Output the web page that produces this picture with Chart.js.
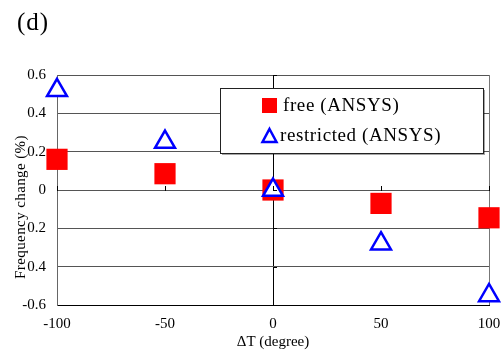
<!DOCTYPE html>
<html>
<head>
<meta charset="utf-8">
<script src="https://cdn.jsdelivr.net/npm/chart.js@4/dist/chart.umd.min.js"></script>
<style>
  html, body { margin: 0; padding: 0; background: #fff; }
  #wrap { width: 501px; height: 351px; }
</style>
</head>
<body>
<div id="wrap"><canvas id="c"></canvas></div>
<script>
// values
const deltaT = [-100, -50, 0, 50, 100];
const freeAnsys = [0.16, 0.085, 0, -0.07, -0.145];
const restrictedAnsys = [0.52, 0.25, 0, -0.28, -0.55];
const xTicks = [-100, -50, 0, 50, 100];
const yTicks = [0.6, 0.4, 0.2, 0, -0.2, -0.4, -0.6];

const serif = "'Liberation Serif', 'DejaVu Serif', serif";

// panel label, rotated y title and legend box
const extras = {
  id: "extras",
  afterDraw(chart) {
    const ctx = chart.ctx;
    const xs = chart.scales.x, ys = chart.scales.y;
    ctx.save();

    // little tick marks on the zero lines
    ctx.strokeStyle = "#000";
    ctx.lineWidth = 1;
    const y0 = Math.round(ys.getPixelForValue(0));
    xTicks.forEach(v => {
      const px = Math.round(xs.getPixelForValue(v)) + 0.5;
      ctx.beginPath(); ctx.moveTo(px, y0 - 4); ctx.lineTo(px, y0 + 1); ctx.stroke();
    });
    const x0 = xs.getPixelForValue(0);
    yTicks.forEach(v => {
      const py = Math.round(ys.getPixelForValue(v)) + 0.5;
      ctx.beginPath(); ctx.moveTo(x0, py); ctx.lineTo(x0 + 4, py); ctx.stroke();
    });

    // (d)
    ctx.fillStyle = "#000";
    ctx.font = "25px " + serif;
    ctx.letterSpacing = "1px";
    ctx.textAlign = "left";
    ctx.textBaseline = "middle";
    ctx.fillText("(d)", 17, 23);
    ctx.letterSpacing = "0px";

    // y title, drawn over the minus signs like the original
    ctx.save();
    ctx.translate(21, 207);
    ctx.rotate(-Math.PI / 2);
    ctx.font = "15px " + serif;
    ctx.letterSpacing = "0.4px";
    ctx.textAlign = "center";
    ctx.textBaseline = "middle";
    const tw = ctx.measureText("Frequency change (%)").width;
    ctx.fillStyle = "#fff";
    ctx.fillRect(-tw / 2, -6, tw, 12);
    ctx.fillStyle = "#000";
    ctx.fillText("Frequency change (%)", 0, 0);
    ctx.restore();

    // legend
    ctx.fillStyle = "rgba(0,0,0,0.35)";
    ctx.fillRect(222, 90, 263, 65);
    ctx.fillStyle = "#fff";
    ctx.fillRect(220.5, 88.5, 263, 65);
    ctx.strokeStyle = "#222";
    ctx.strokeRect(220.5, 88.5, 263, 65);

    ctx.fillStyle = "#ff0000";
    ctx.fillRect(262, 98, 15, 15);
    ctx.beginPath();
    ctx.moveTo(269.5, 129);
    ctx.lineTo(276.5, 142);
    ctx.lineTo(262.5, 142);
    ctx.closePath();
    ctx.fillStyle = "#fff";
    ctx.fill();
    ctx.strokeStyle = "#0000ff";
    ctx.lineWidth = 2.5;
    ctx.stroke();

    ctx.fillStyle = "#000";
    ctx.font = "19px " + serif;
    ctx.letterSpacing = "0.6px";
    ctx.textAlign = "left";
    ctx.textBaseline = "middle";
    ctx.fillText("free (ANSYS)", 283, 106);
    ctx.fillText("restricted (ANSYS)", 280, 136);
    ctx.restore();
  }
};

new Chart(document.getElementById("c").getContext("2d"), {
  type: "scatter",
  data: {
    datasets: [
      {
        label: "restricted (ANSYS)",
        data: deltaT.map((x, i) => ({ x: x, y: restrictedAnsys[i] })),
        pointStyle: "triangle",
        pointRadius: 11.5,
        pointBackgroundColor: "#fff",
        pointBorderColor: "#0000ff",
        pointBorderWidth: 2.5,
        clip: false,
        order: 0
      },
      {
        label: "free (ANSYS)",
        data: deltaT.map((x, i) => ({ x: x, y: freeAnsys[i] })),
        pointStyle: "rect",
        pointRadius: 15,
        pointBackgroundColor: "#ff0000",
        pointBorderColor: "#ff0000",
        pointBorderWidth: 0,
        clip: false,
        order: 1
      }
    ]
  },
  options: {
    responsive: true,
    maintainAspectRatio: false,
    animation: false,
    events: [],
    layout: { autoPadding: false, padding: { top: 75, right: 12, left: 0, bottom: 0 } },
    plugins: {
      legend: { display: false },
      tooltip: { enabled: false }
    },
    scales: {
      x: {
        type: "linear",
        min: -100,
        max: 100,
        afterBuildTicks: axis => { axis.ticks = xTicks.map(v => ({ value: v })); },
        afterFit: axis => {
          axis.height = 46;
          axis.paddingLeft = 0;
          axis.paddingRight = 0;
        },
        grid: {
          drawTicks: false,
          lineWidth: 1,
          color: c => c.tick && c.tick.value === 0 ? "#000" : (c.tick && c.tick.value === 100 ? "#777" : "rgba(0,0,0,0)")
        },
        border: { color: "#000" },
        ticks: { padding: 10, color: "#000", font: { family: serif, size: 15 } },
        title: { display: true, text: "ΔT (degree)", color: "#000", padding: 0, font: { family: serif, size: 15 } }
      },
      y: {
        min: -0.6,
        max: 0.6,
        afterBuildTicks: axis => { axis.ticks = yTicks.map(v => ({ value: v })); },
        afterFit: axis => {
          axis.width = 57;
          axis.paddingTop = 0;
          axis.paddingBottom = 0;
        },
        grid: { drawTicks: false, color: "#555", lineWidth: 1 },
        border: { color: "#666" },
        ticks: {
          padding: 11,
          color: "#000",
          font: { family: serif, size: 15 },
          callback: v => (Math.abs(v) < 1e-9 ? "0" : v.toFixed(1))
        }
      }
    }
  },
  plugins: [extras]
});
</script>
</body>
</html>
